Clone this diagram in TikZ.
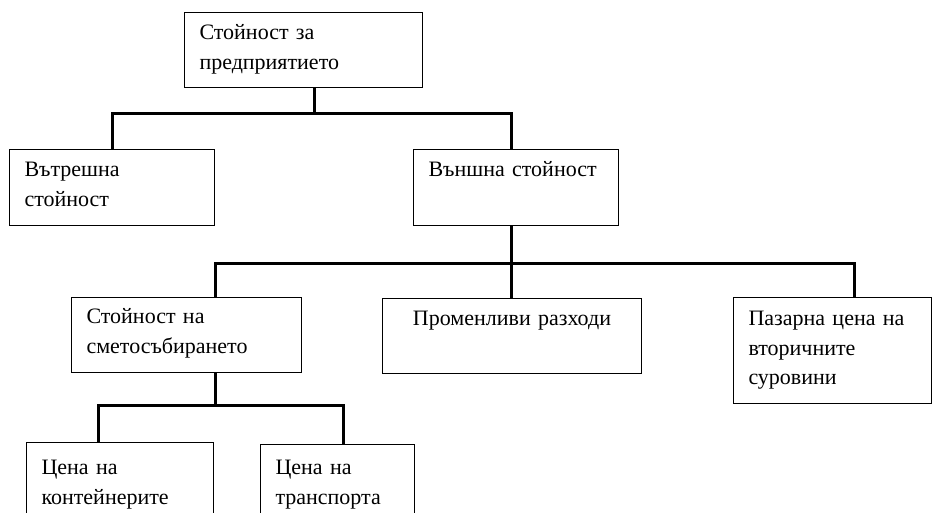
\documentclass[tikz,border=0pt]{standalone}
\usepackage{fontspec}
\setmainfont{Liberation Serif}
\usetikzlibrary{positioning}

\tikzset{
  box/.style={draw, line width=1pt, anchor=north west, inner xsep=15pt, inner ysep=0pt,
    align=left, font=\fontsize{22}{29.5}\selectfont, text height=27pt},
  bus/.style={line width=3pt}
}

\begin{document}
\begin{tikzpicture}[x=1pt,y=-1pt]
			% page frame
			\clip (0,0) rectangle (933,512);
			% level 0
			\node[box,text width=208pt,text depth=48pt] (firm) at (184,12) {Стойност за\\предприятието};
			% level 1
			\node[box,text width=175pt,text depth=49pt] (inner) at (9,149) {Вътрешна\\стойност};
			\node[box,text width=175pt,text depth=49pt] (outer) at (413,149) {Външна стойност};
			% level 2
			\node[box,text width=200pt,text height=26pt,text depth=49pt] (collect) at (71,297) {Стойност на\\сметосъбирането};
			\node[box,align=center,text width=229pt,text depth=48pt] (varcost) at (382,298) {Променливи разходи};
			\node[box,text width=168pt,text height=28pt,text depth=78pt] (market) at (733,297) {Пазарна цена на\\вторичните\\суровини};
			% level 3
			\node[box,text width=157pt,text height=32pt,text depth=68pt] (contain) at (26,442) {Цена на\\контейнерите};
			\node[box,text width=124pt,text height=30pt,text depth=70pt] (transp) at (260,444) {Цена на\\транспорта};
			% bus lines
			\coordinate (busA) at (314,113);
			\coordinate (busC) at (511,263);
			\coordinate (busD) at (215,405);
			\draw[bus] (firm.south -| busA) -- (busA) -| (inner.north);
			\draw[bus] (busA) -| (outer.north -| busC);
			\draw[bus] (outer.south -| busC) -- (busC) -| (collect.north -| busD);
			\draw[bus] (busC) -- (varcost.north -| busC);
			\draw[bus] (busC) -| ([xshift=22pt]market.north);
			\draw[bus] (collect.south -| busD) -- (busD) -| ([xshift=-21.5pt]contain.north);
			\draw[bus] (busD) -| ([xshift=6pt]transp.north);
		\end{tikzpicture}
\end{document}
